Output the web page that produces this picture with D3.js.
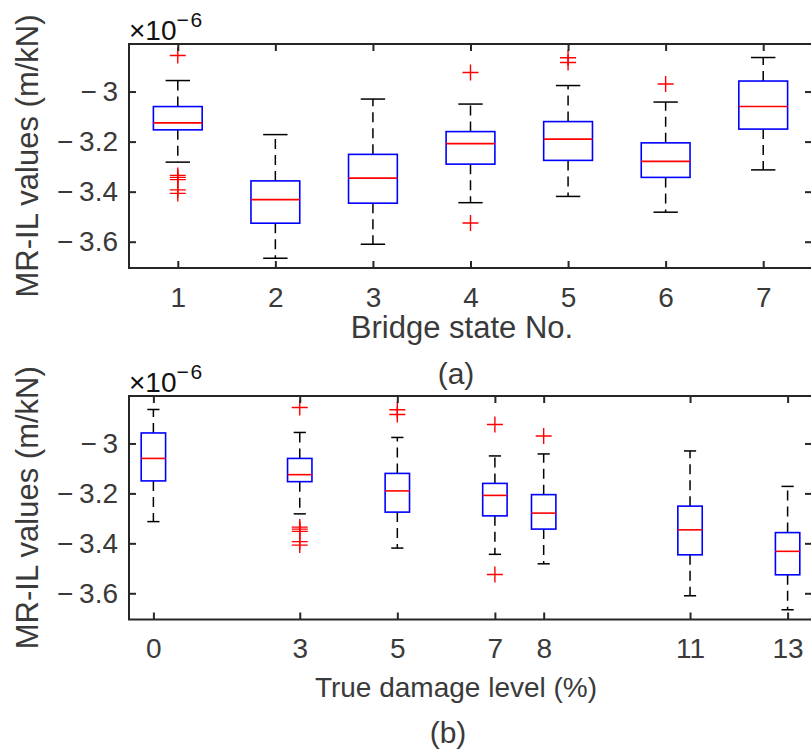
<!DOCTYPE html>
<html>
<head>
<meta charset="utf-8">
<script src="https://cdn.jsdelivr.net/npm/d3@7"></script>
<style>
  html, body { margin: 0; padding: 0; background: #fff; }
  svg { display: block; }
  text { font-family: "Liberation Sans", Arial, sans-serif; fill: #3a3a3a; }
</style>
</head>
<body>
<svg id="chart" width="811" height="753"></svg>
<script>
// ---- Data (values in units of 1e-6 m/kN) ----
const states        = [1, 2, 3, 4, 5, 6, 7];
const damageLevels  = [3, 13, 11, 7, 5, 8, 0];   // true damage level (%) of each bridge state
const upperWhisker  = [-2.956, -3.172, -3.030, -3.050, -2.976, -3.042, -2.864];
const q3            = [-3.060, -3.357, -3.251, -3.160, -3.120, -3.205, -2.958];
const medians       = [-3.125, -3.432, -3.346, -3.208, -3.190, -3.279, -3.060];
const q1            = [-3.153, -3.526, -3.446, -3.290, -3.275, -3.343, -3.150];
const lowerWhisker  = [-3.282, -3.666, -3.610, -3.444, -3.419, -3.482, -3.313];
const outliers      = [
  [-2.856, -3.335, -3.343, -3.352, -3.393, -3.407],
  [],
  [],
  [-2.924, -3.525],
  [-2.865, -2.884],
  [-2.970],
  []
];
const yTicks        = [-3.6, -3.4, -3.2, -3.0];
const xTicksA       = states;
const xTicksB       = [0, 3, 5, 7, 8, 11, 13];

const boxes = states.map((s, i) => ({
  state: s, damage: damageLevels[i],
  hi: upperWhisker[i], q3: q3[i], med: medians[i], q1: q1[i], lo: lowerWhisker[i],
  out: outliers[i]
}));

const svg = d3.select("#chart");
const LEFT = 129, RIGHT = 812;
const AXIS_COLOR = "#262626";
const TICK_FONT = 28;

function fmt(d) {
  const a = Math.abs(d);
  return (d < 0 ? "\u2212\u2009" : "") + (Number.isInteger(a) ? a.toString() : a.toFixed(1));
}

function panel(cfg) {
  const g = svg.append("g");
  const x = d3.scaleLinear().domain(cfg.xDomain).range([LEFT, RIGHT]);
  const y = d3.scaleLinear().domain([-3.705, -2.810]).range([cfg.bottom, cfg.top]);
  const unit = x(1) - x(0);
  const bw = 0.5 * unit, cw = 0.25 * unit;

  // boxes
  const bg = g.append("g");
  boxes.forEach(b => {
    const cx = x(cfg.xOf(b));
    // whiskers (dashed)
    bg.append("line").attr("x1", cx).attr("x2", cx).attr("y1", y(b.q3)).attr("y2", y(b.hi))
      .attr("stroke", "#000").attr("stroke-width", 1.5).attr("stroke-dasharray", "10,6");
    bg.append("line").attr("x1", cx).attr("x2", cx).attr("y1", y(b.q1)).attr("y2", y(b.lo))
      .attr("stroke", "#000").attr("stroke-width", 1.5).attr("stroke-dasharray", "10,6");
    // caps
    [b.hi, b.lo].forEach(v => {
      bg.append("line").attr("x1", cx - cw / 2).attr("x2", cx + cw / 2).attr("y1", y(v)).attr("y2", y(v))
        .attr("stroke", "#000").attr("stroke-width", 1.5);
    });
    // box
    bg.append("rect").attr("x", cx - bw / 2).attr("y", y(b.q3)).attr("width", bw).attr("height", y(b.q1) - y(b.q3))
      .attr("fill", "none").attr("stroke", "#0000ff").attr("stroke-width", 1.6);
    // median
    bg.append("line").attr("x1", cx - bw / 2).attr("x2", cx + bw / 2).attr("y1", y(b.med)).attr("y2", y(b.med))
      .attr("stroke", "#ff0000").attr("stroke-width", 1.6);
    // outliers
    b.out.forEach(v => {
      const py = y(v), s = 8;
      bg.append("path").attr("d", `M${cx - s},${py}H${cx + s}M${cx},${py - s}V${py + s}`)
        .attr("stroke", "#ff0000").attr("stroke-width", 1.4).attr("fill", "none");
    });
  });

  // axes (ticks inward, box on)
  const ax = g.append("g");
  const bottomAxis = d3.axisBottom(x).tickValues(cfg.xTicks).tickFormat(d3.format("d"))
    .tickSizeInner(-7).tickSizeOuter(0).tickPadding(19);
  const topAxis = d3.axisTop(x).tickValues(cfg.xTicks).tickFormat("").tickSizeInner(-7).tickSizeOuter(0);
  const leftAxis = d3.axisLeft(y).tickValues(yTicks).tickFormat(fmt).tickSizeInner(-7).tickSizeOuter(0).tickPadding(11);
  const rightAxis = d3.axisRight(y).tickValues(yTicks).tickFormat("").tickSizeInner(-7).tickSizeOuter(0);

  ax.append("g").attr("transform", `translate(0,${cfg.bottom})`).call(bottomAxis);
  ax.append("g").attr("transform", `translate(0,${cfg.top})`).call(topAxis);
  ax.append("g").attr("transform", `translate(${LEFT},0)`).call(leftAxis);
  ax.append("g").attr("transform", `translate(${RIGHT},0)`).call(rightAxis);
  ax.selectAll(".domain").remove();
  ax.selectAll(".tick line").attr("stroke", AXIS_COLOR).attr("stroke-width", 2);
  ax.selectAll(".tick text").style("font-size", TICK_FONT + "px").style("font-family", '"Liberation Sans", Arial, sans-serif').attr("fill", "#3a3a3a");
  ax.append("rect").attr("x", LEFT).attr("y", cfg.top).attr("width", RIGHT - LEFT).attr("height", cfg.bottom - cfg.top)
    .attr("fill", "none").attr("stroke", AXIS_COLOR).attr("stroke-width", 2);

  // exponent label
  const ex = g.append("text").attr("x", LEFT).attr("y", cfg.top - 4).style("font-size", TICK_FONT + "px").style("fill", "#111");
  ex.append("tspan").text("\u00d710");
  ex.append("tspan").attr("dy", -13).style("font-size", "21px").text("\u2212\u200A6");

  // axis labels
  g.append("text").attr("x", cfg.xLabelX).attr("y", cfg.xLabelY).attr("text-anchor", "middle")
    .style("font-size", cfg.xLabelFont + "px").text(cfg.xLabel);
  g.append("text").attr("transform", `translate(38,${(cfg.top + cfg.bottom) / 2}) rotate(-90)`)
    .attr("text-anchor", "middle").style("font-size", "31px").text("MR-IL values (m/kN)");
  g.append("text").attr("x", cfg.capX).attr("y", cfg.capY).attr("text-anchor", "middle")
    .style("font-size", "30px").text(cfg.caption);
}

panel({
  top: 44, bottom: 268, xDomain: [0.5, 7.5], xTicks: xTicksA, xOf: b => b.state,
  xLabel: "Bridge state No.", xLabelFont: 31, xLabelX: 462, xLabelY: 338,
  caption: "(a)", capX: 456, capY: 384
});
panel({
  top: 396, bottom: 619.5, xDomain: [-0.5, 13.5], xTicks: xTicksB, xOf: b => b.damage,
  xLabel: "True damage level (%)", xLabelFont: 28, xLabelX: 456, xLabelY: 697,
  caption: "(b)", capX: 448, capY: 743
});
</script>
</body>
</html>
